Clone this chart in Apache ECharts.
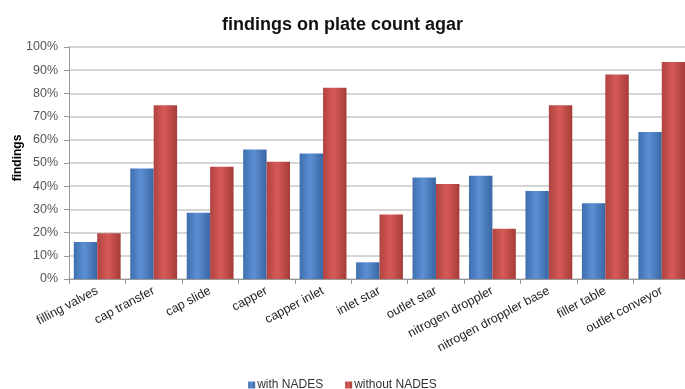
<!DOCTYPE html>
<html>
<head>
<meta charset="utf-8">
<script src="https://cdn.jsdelivr.net/npm/echarts@6/dist/echarts.min.js"></script>
<style>
html,body{margin:0;padding:0;background:#fff;}
#chart{width:685px;height:389px;}
</style>
</head>
<body>
<div id="chart"></div>
<script>
// values (fractions shown as percent)
var categories = ['filling valves','cap transfer','cap slide','capper','capper inlet','inlet star',
	'outlet star','nitrogen droppler','nitrogen droppler base','filler table','outlet conveyor'];
var withNades = [16, 47.6, 28.6, 55.8, 54.1, 7.2, 43.8, 44.5, 37.9, 32.6, 63.4];
var withoutNades = [19.7, 74.9, 48.4, 50.5, 82.4, 27.8, 40.9, 21.7, 74.9, 88.1, 93.5];

function barColor(c1, c2, c3) {
	return new echarts.graphic.LinearGradient(0, 0, 1, 0, [
		{offset: 0, color: c1},
		{offset: 0.45, color: c2},
		{offset: 1, color: c3}
	]);
}

var myChart = echarts.init(document.getElementById('chart'));
var option = {
	animation: false,
	title: {
		text: 'findings on plate count agar',
		left: 'center',
		top: 11,
		textStyle: {fontFamily: 'Liberation Sans', fontSize: 18, fontWeight: 'bold', color: '#111'}
	},
	legend: {
		top: 374,
		left: 'center',
		icon: 'rect',
		itemWidth: 7,
		itemHeight: 7,
		itemGap: 22,
		textStyle: {fontFamily: 'Liberation Sans', fontSize: 12, color: '#333', padding: [0,0,0,-3]},
		data: ['with NADES', 'without NADES']
	},
	grid: {left: 69, right: -5, top: 47, bottom: 110, outerBoundsMode: 'none', containLabel: false},
	xAxis: {
		type: 'category',
		data: categories,
		axisLine: {lineStyle: {color: '#999', width: 1}},
		axisTick: {show: true, length: 5, lineStyle: {color: '#999'}},
		axisLabel: {rotate: 28, margin: 11, interval: 0, fontFamily: 'Liberation Sans', fontSize: 12.5, color: '#222'}
	},
	yAxis: {
		type: 'value',
		min: 0,
		max: 100,
		interval: 10,
		name: 'findings',
		nameLocation: 'middle',
		nameGap: 45,
		nameMoveOverlap: false,
		nameTextStyle: {fontFamily: 'Liberation Sans', fontSize: 12, fontWeight: 'bold', color: '#000', padding: [0,0,0,10]},
		axisLine: {show: true, lineStyle: {color: '#999'}},
		axisTick: {show: true, length: 5, lineStyle: {color: '#999'}},
		axisLabel: {formatter: '{value}%', fontFamily: 'Liberation Sans', fontSize: 12.5, color: '#555', margin: 11},
		splitLine: {lineStyle: {color: '#c8c8c8', width: 1.5}}
	},
	series: [
		{
			name: 'with NADES',
			type: 'bar',
			data: withNades,
			barGap: '0%',
			barCategoryGap: '17%',
			itemStyle: {color: barColor('#3f6fae', '#5b8fd4', '#3a67a3')}
		},
		{
			name: 'without NADES',
			type: 'bar',
			data: withoutNades,
			itemStyle: {color: barColor('#b04340', '#d65a57', '#a63c39')}
		}
	]
};
myChart.setOption(option);
</script>
</body>
</html>
